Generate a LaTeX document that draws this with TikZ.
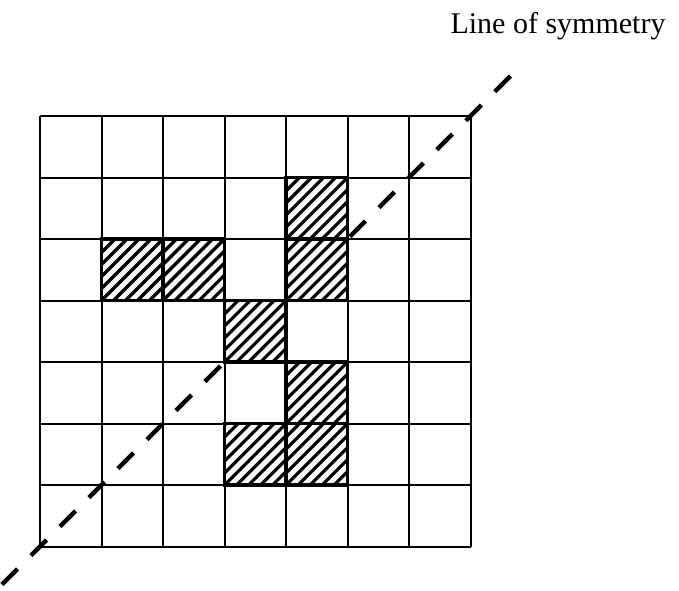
\documentclass[tikz,border=0pt]{standalone}
\usepackage{fontspec}
\setmainfont{Liberation Serif}
\usetikzlibrary{positioning}

\begin{document}
\begin{tikzpicture}[x=1pt, y=-1pt,
  gridline/.style={line width=2pt},
  cellbox/.style={line width=3.8pt},
  hatchline/.style={line width=3.2pt},
  symline/.style={line width=4.5pt, dash pattern=on 22pt off 19pt},
  symtext/.style={font=\fontsize{30}{36}\selectfont, inner sep=0pt},
]
\useasboundingbox (0,0) rectangle (679,590);

% Grid 7x7
\foreach \i in {0,...,7} {
  \draw[gridline] (40+61.5*\i,116) -- (40+61.5*\i,546.5);
  \draw[gridline] (40,116+61.5*\i) -- (470.5,116+61.5*\i);
}

% Line of symmetry
\coordinate (lo) at (2,584.5);
\coordinate (hi) at (523,63.5);
\draw[symline] (lo) -- (hi);
\node[symtext] (symlabel) at (558,26) {Line of symmetry};

% Shaded cells (column/row from top left)
\foreach \c/\r in {4/1,1/2,2/2,4/2,3/3,4/4,3/5,4/5} {
  \pgfmathsetmacro{\cx}{40+61.5*\c}
  \pgfmathsetmacro{\cy}{116+61.5*\r}
  \fill[white] (\cx,\cy) rectangle ++(61.5,61.5);
  \begin{scope}
    \clip (\cx,\cy) rectangle ++(61.5,61.5);
    \foreach \k in {-6,...,6}
      \draw[hatchline] (\cx+12*\k,\cy+61.5) -- ++(61.5,-61.5);
  \end{scope}
  \draw[cellbox] (\cx,\cy) rectangle ++(61.5,61.5);
}
\end{tikzpicture}
\end{document}
